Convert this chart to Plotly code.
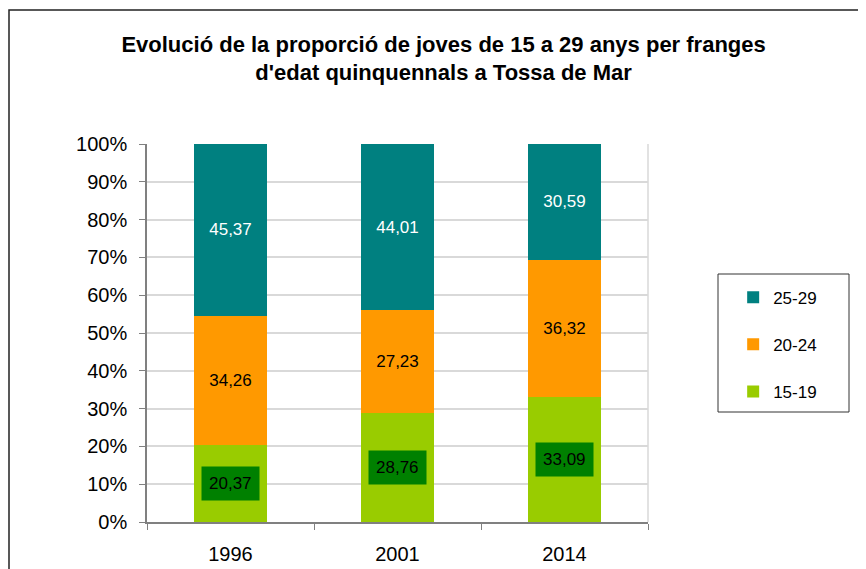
import plotly.graph_objects as go

years = ["1996", "2001", "2014"]
series_names = ["15-19", "20-24", "25-29"]
v_15_19 = [20.37, 28.76, 33.09]
v_20_24 = [34.26, 27.23, 36.32]
v_25_29 = [45.37, 44.01, 30.59]
colors = {"15-19": "#99CC00", "20-24": "#FF9900", "25-29": "#008080"}

title_line1 = "Evolució de la proporció de joves de 15 a 29 anys per franges"
title_line2 = "d'edat quinquennals a Tossa de Mar"

def fmt(v):
    return f"{v:.2f}".replace(".", ",")

FONT = "Liberation Sans, Arial, sans-serif"

fig = go.Figure()
values = {"15-19": v_15_19, "20-24": v_20_24, "25-29": v_25_29}
for i, name in enumerate(series_names):
    vals = values[name]
    show_text = name != "15-19"
    fig.add_trace(go.Bar(
        x=years, y=vals, name=name,
        marker=dict(color=colors[name], line=dict(width=0)),
        text=[fmt(v) for v in vals] if show_text else None,
        textposition="inside" if show_text else "none",
        insidetextanchor="middle",
        textangle=0,
        textfont=dict(family=FONT, size=17,
                      color="white" if name == "25-29" else "black"),
        legendgroup=name,
        legendrank=len(series_names) - i,
        hoverinfo="x+y+name",
    ))

# labels with dark green background for the 15-19 series (category index positions)
for idx, v in enumerate(v_15_19):
    fig.add_annotation(x=idx, y=v / 2, xref="x", yref="y", text=fmt(v),
                       showarrow=False, bgcolor="#008000", borderpad=7,
                       font=dict(family=FONT, size=17, color="black"))

# plot area in page pixels: x 147..648, y 144..522 (page has 8px body offset)
PW, PH = 501.0, 378.0
def px(xp):
    return (xp - 147) / PW
def py(yp):
    return (522 - yp) / PH

# outer chart frame
fig.add_shape(type="rect", xref="paper", yref="paper",
              x0=px(9), x1=1.6, y0=-0.5, y1=py(10),
              line=dict(color="#222222", width=1.5), fillcolor="rgba(0,0,0,0)", layer="below")
# legend frame
fig.add_shape(type="rect", xref="paper", yref="paper",
              x0=px(718), x1=px(849), y0=py(412), y1=py(274),
              line=dict(color="#333333", width=1), fillcolor="white")
# right plot border
fig.add_shape(type="line", xref="paper", yref="paper", x0=1, x1=1, y0=0, y1=1,
              line=dict(color="#D9D9D9", width=1.5))

fig.update_layout(
    width=866, height=569,
    barmode="stack", bargap=0.56,
    paper_bgcolor="white", plot_bgcolor="white",
    margin=dict(l=139, r=226, t=136, b=55, autoexpand=False),
    font=dict(family=FONT, color="black"),
    title=dict(
        text=f"<b>{title_line1}</b><br><b>{title_line2}</b>",
        x=0.503, xanchor="center", xref="container",
        y=0.923, yanchor="top", yref="container",
        font=dict(family=FONT, size=22, color="black"),
    ),
    legend=dict(
        traceorder="grouped", tracegroupgap=22,
        x=1.17, xanchor="left", y=0.641, yanchor="top",
        bgcolor="rgba(0,0,0,0)", borderwidth=0,
        font=dict(family=FONT, size=17, color="black"),
    ),
    xaxis=dict(
        type="category", range=[-0.5, 2.5], showgrid=False,
        showline=True, linecolor="#808080", linewidth=1.5,
        ticks="outside", tickson="boundaries", ticklen=6, tickcolor="#808080",
        tickfont=dict(family=FONT, size=20, color="black"),
        ticklabelstandoff=13, automargin=False,
    ),
    yaxis=dict(
        range=[0, 100], dtick=10, ticksuffix="%",
        showgrid=True, gridcolor="#D9D9D9", gridwidth=1.5,
        showline=True, linecolor="#808080", linewidth=1.5,
        ticks="outside", ticklen=6, tickcolor="#808080",
        tickfont=dict(family=FONT, size=20, color="black"),
        ticklabelstandoff=8, zeroline=False, automargin=False,
    ),
)

fig.write_html("out.html")
